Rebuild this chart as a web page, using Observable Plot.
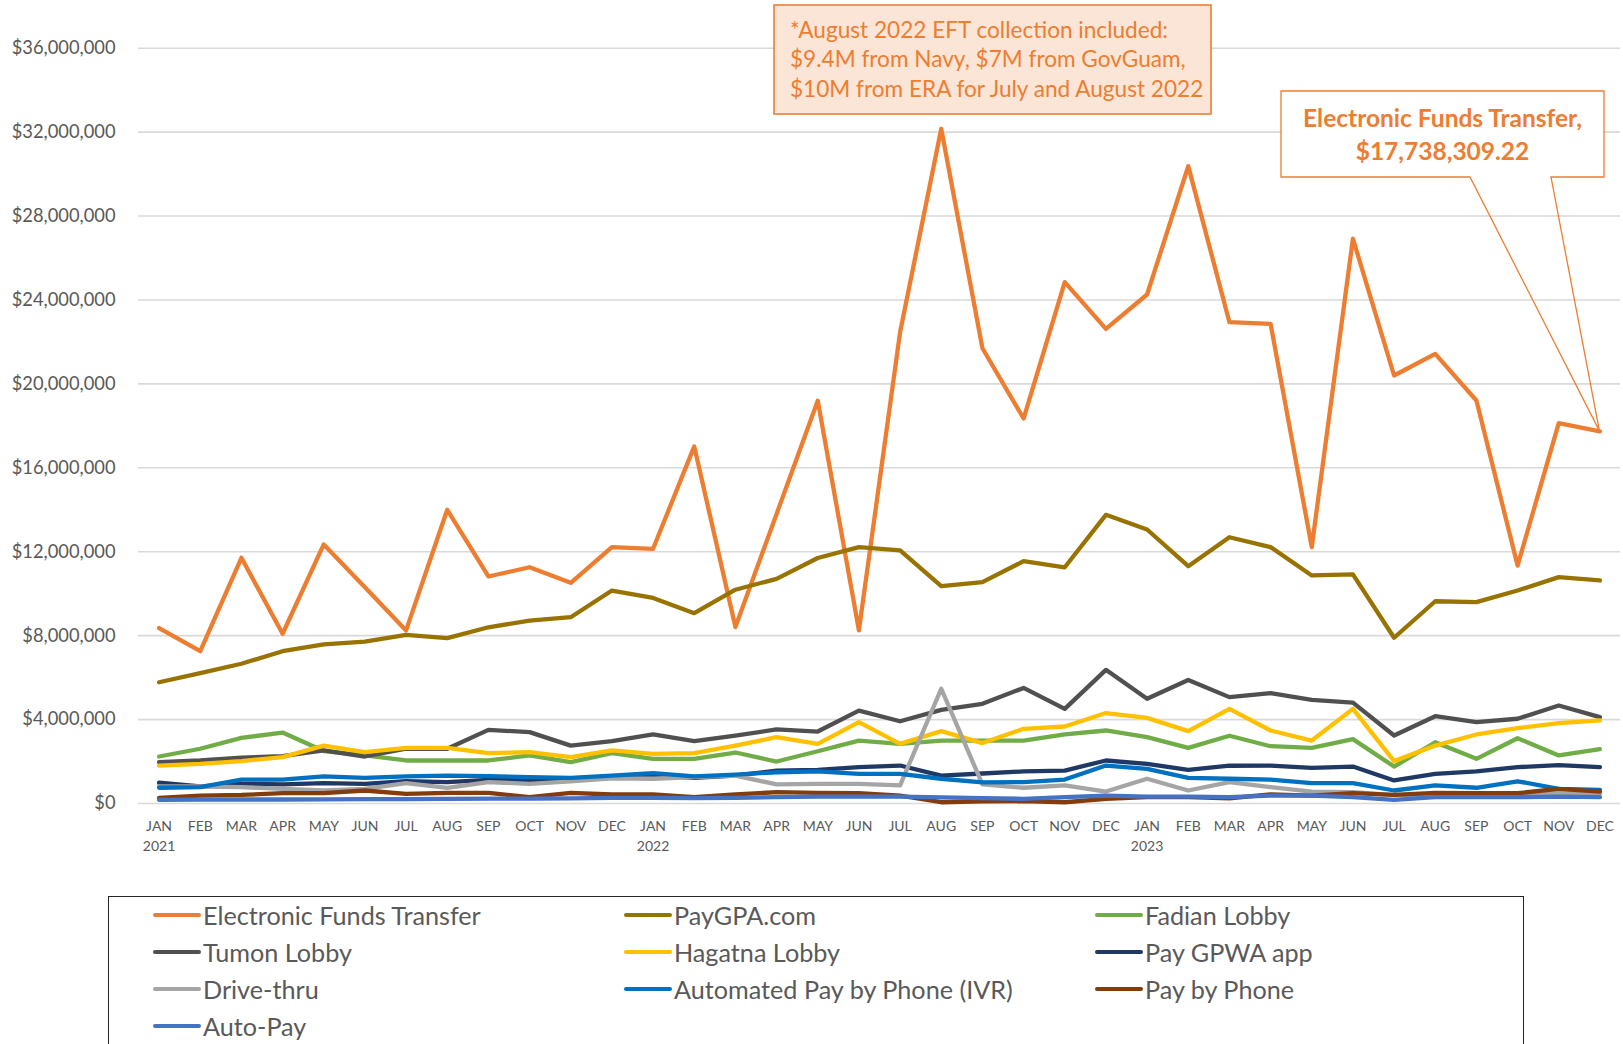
<!DOCTYPE html>
<html>
<head>
<meta charset="utf-8">
<script src="https://cdn.jsdelivr.net/npm/d3@7"></script>
<script src="https://cdn.jsdelivr.net/npm/@observablehq/plot@0.6"></script>
<style>
  html, body { margin: 0; padding: 0; background: #fff; overflow: hidden; }
  body { width: 1623px; height: 1044px; position: relative; font-family: Lato, "Open Sans", sans-serif; }
  #chart svg { display: block; overflow: visible; }
  #legend {
    position: absolute; left: 108px; top: 896px; width: 1416px; height: 170px;
    border: 1.5px solid #262626; box-sizing: border-box;
  }
  .item { position: absolute; display: flex; align-items: center; font-size: 25.2px; color: #595959; white-space: nowrap; }
  .sw { width: 48px; height: 4px; margin-right: 2px; border-radius: 2px; }
</style>
</head>
<body>
<div id="chart"></div>
<div id="legend"></div>
<script>
// ---- Data (values in millions of dollars) ----
const monthNames = ["JAN","FEB","MAR","APR","MAY","JUN","JUL","AUG","SEP","OCT","NOV","DEC"];
const years = [2021, 2022, 2023];
const yTicks = [0, 4e6, 8e6, 12e6, 16e6, 20e6, 24e6, 28e6, 32e6, 36e6];

const seriesNames = [
  "Electronic Funds Transfer", "PayGPA.com", "Fadian Lobby",
  "Tumon Lobby", "Hagatna Lobby", "Pay GPWA app",
  "Drive-thru", "Automated Pay by Phone (IVR)", "Pay by Phone",
  "Auto-Pay"
];
const seriesColors = [
  "#ED7D31", "#997300", "#70AD47",
  "#505050", "#FFC000", "#1F3864",
  "#A5A5A5", "#0070C0", "#843C0C",
  "#4472C4"
];

const eft = [8.36, 7.26, 11.71, 8.09, 12.35, 10.31, 8.25, 14.0, 10.82, 11.26, 10.52, 12.22,
             12.14, 17.02, 8.41, 13.8, 19.2, 8.25, 22.46, 32.16, 21.70, 18.35, 24.85, 22.62,
             24.26, 30.38, 22.94, 22.86, 12.22, 26.92, 20.40, 21.43, 19.21, 11.34, 18.13, 17.73830922];
const payGPA = [5.78, 6.21, 6.66, 7.26, 7.58, 7.72, 8.04, 7.88, 8.40, 8.72, 8.88, 10.15,
                9.80, 9.07, 10.19, 10.71, 11.7, 12.22, 12.06, 10.36, 10.55, 11.55, 11.26, 13.76,
                13.06, 11.31, 12.69, 12.22, 10.87, 10.92, 7.90, 9.64, 9.60, 10.15, 10.79, 10.63];
const fadian = [2.24, 2.61, 3.13, 3.38, 2.5, 2.29, 2.05, 2.05, 2.05, 2.29, 1.97, 2.40,
                2.13, 2.13, 2.43, 2.0, 2.49, 3.0, 2.84, 3.0, 3.0, 3.0, 3.29, 3.48,
                3.16, 2.65, 3.23, 2.73, 2.65, 3.07, 1.76, 2.92, 2.13, 3.11, 2.29, 2.59];
const tumon = [1.97, 2.05, 2.18, 2.26, 2.53, 2.24, 2.61, 2.61, 3.51, 3.40, 2.76, 2.97,
               3.29, 2.97, 3.24, 3.53, 3.43, 4.43, 3.92, 4.46, 4.75, 5.51, 4.51, 6.37,
               4.99, 5.89, 5.07, 5.26, 4.94, 4.81, 3.24, 4.16, 3.88, 4.04, 4.67, 4.12];
const hagatna = [1.81, 1.89, 2.02, 2.21, 2.76, 2.45, 2.65, 2.65, 2.40, 2.45, 2.21, 2.53,
                 2.37, 2.40, 2.76, 3.16, 2.84, 3.88, 2.84, 3.45, 2.88, 3.56, 3.67, 4.31,
                 4.08, 3.45, 4.51, 3.48, 3.0, 4.51, 2.02, 2.76, 3.29, 3.59, 3.83, 3.96];
const gpwaApp = [0.99, 0.81, 0.94, 0.91, 0.97, 0.94, 1.06, 1.02, 1.13, 1.10, 1.18, 1.29,
                 1.33, 1.22, 1.33, 1.57, 1.60, 1.73, 1.81, 1.33, 1.43, 1.53, 1.57, 2.05,
                 1.89, 1.60, 1.80, 1.81, 1.70, 1.76, 1.10, 1.41, 1.53, 1.73, 1.83, 1.73];
const driveThru = [0.81, 0.81, 0.78, 0.70, 0.62, 0.70, 0.97, 0.75, 1.02, 0.94, 1.05, 1.20,
                   1.18, 1.26, 1.33, 0.91, 0.94, 0.94, 0.86, 5.47, 0.91, 0.75, 0.86, 0.57,
                   1.18, 0.62, 1.02, 0.78, 0.57, 0.54, 0.40, 0.42, 0.42, 0.45, 0.48, 0.45];
const ivr = [0.75, 0.78, 1.14, 1.14, 1.29, 1.22, 1.29, 1.33, 1.30, 1.26, 1.22, 1.33,
             1.45, 1.29, 1.38, 1.49, 1.53, 1.41, 1.41, 1.18, 1.01, 1.02, 1.14, 1.81,
             1.65, 1.22, 1.18, 1.14, 0.97, 0.97, 0.62, 0.86, 0.75, 1.06, 0.70, 0.65];
const payByPhone = [0.27, 0.38, 0.41, 0.49, 0.49, 0.62, 0.46, 0.51, 0.51, 0.30, 0.51, 0.43,
                    0.43, 0.30, 0.43, 0.54, 0.51, 0.49, 0.38, 0.06, 0.10, 0.11, 0.06, 0.22,
                    0.30, 0.30, 0.25, 0.43, 0.38, 0.49, 0.41, 0.51, 0.49, 0.49, 0.70, 0.57];
const autoPay = [0.17, 0.18, 0.19, 0.19, 0.20, 0.21, 0.21, 0.22, 0.23, 0.23, 0.24, 0.27,
                 0.27, 0.26, 0.27, 0.30, 0.33, 0.33, 0.33, 0.29, 0.26, 0.22, 0.30, 0.38,
                 0.33, 0.33, 0.30, 0.38, 0.38, 0.30, 0.17, 0.30, 0.30, 0.30, 0.33, 0.30];

const noteLines = [
  "*August 2022 EFT collection included:",
  "$9.4M from Navy, $7M from GovGuam,",
  "$10M from ERA for July and August 2022"
];

// ---- Build table ----
const periods = years.flatMap(y => monthNames.map(m => `${m} ${y}`));
const seriesValues = [eft, payGPA, fadian, tumon, hagatna, gpwaApp, driveThru, ivr, payByPhone, autoPay];
const data = seriesNames.flatMap((name, s) =>
  seriesValues[s].map((v, i) => ({series: name, period: periods[i], value: v * 1e6})));
const yearMarks = years.map(y => ({period: `JAN ${y}`, year: String(y)}));

const fmt = d3.format("$,.0f");
const lastEFT = eft[eft.length - 1] * 1e6;

const W = 1623, H = 870;
const plot = Plot.plot({
  width: W, height: H,
  marginTop: 47.7, marginBottom: 67, marginLeft: 138, marginRight: 3,
  style: {fontFamily: "Lato, 'Open Sans', sans-serif", color: "#595959", background: "transparent", overflow: "visible"},
  x: {type: "point", domain: periods, padding: 0.5, round: false, axis: null},
  y: {domain: [0, 36e6], axis: null},
  color: {domain: seriesNames, range: seriesColors, legend: false},
  marks: [
    Plot.gridY(yTicks, {stroke: "#D9D9D9", strokeOpacity: 1, strokeWidth: 1.6}),
    Plot.axisY({ticks: yTicks, tickFormat: fmt, tickSize: 0, tickPadding: 23, fontSize: 18.3, label: null, fill: "#595959"}),
    Plot.axisX({tickSize: 0, tickPadding: 18, fontSize: 14, label: null, fill: "#595959", tickFormat: d => d.slice(0, 3)}),
    Plot.text(yearMarks, {x: "period", frameAnchor: "bottom", dy: 38, lineAnchor: "top", text: "year", fontSize: 14, fill: "#595959"}),
    Plot.lineY(data, {x: "period", y: "value", z: "series", stroke: "series", strokeWidth: 4.3, strokeLinejoin: "round", strokeLinecap: "round"})
  ]
});
document.getElementById("chart").appendChild(plot);

// ---- Annotations ----
const svg = d3.select(plot);
const xs = plot.scale("x"), ys = plot.scale("y");
const orange = "#ED7D31";

// note box
const g1 = svg.append("g").attr("text-anchor", "start");
g1.append("rect").attr("x", 774).attr("y", 5).attr("width", 437).attr("height", 109)
  .attr("fill", "#FBE5D6").attr("stroke", orange).attr("stroke-width", 1.6);
noteLines.forEach((t, i) => {
  g1.append("text").attr("x", 790).attr("y", 30 + i * 29.5).attr("dy", "0.35em")
    .attr("text-anchor", "start")
    .attr("fill", orange).attr("font-size", 22.6).attr("font-family", "Lato, sans-serif").text(t);
});

// data label callout
const tipX = xs.apply(periods[periods.length - 1]);
const tipY = ys.apply(lastEFT);
const bx0 = 1281, bx1 = 1604, by0 = 91, by1 = 177, w0 = 1470, w1 = 1551;
const g2 = svg.append("g");
g2.append("rect").attr("x", bx0).attr("y", by0).attr("width", bx1 - bx0).attr("height", by1 - by0).attr("fill", "#fff");
g2.append("path")
  .attr("d", `M${w0},${by1}H${bx0}V${by0}H${bx1}V${by1}H${w1}L${tipX},${tipY}Z`)
  .attr("fill", "none").attr("stroke", orange).attr("stroke-width", 1.3).attr("stroke-linejoin", "miter");
const labelLines = [`${seriesNames[0]},`, d3.format("$,.2f")(lastEFT)];
labelLines.forEach((t, i) => {
  g2.append("text").attr("x", (bx0 + bx1) / 2).attr("y", 118 + i * 33).attr("dy", "0.35em")
    .attr("text-anchor", "middle").attr("fill", orange).attr("font-weight", "bold")
    .attr("font-size", 24.5).attr("font-family", "Lato, sans-serif").text(t);
});

// ---- Legend ----
const legend = document.getElementById("legend");
const colX = [44, 515, 986];
const rowY = [17.5, 54.5, 91.5, 128.5];
seriesNames.forEach((name, i) => {
  const item = document.createElement("div");
  item.className = "item";
  item.style.left = colX[i % 3] + "px";
  item.style.top = (rowY[Math.floor(i / 3)] - 15) + "px";
  item.style.height = "30px";
  const sw = document.createElement("span");
  sw.className = "sw";
  sw.style.background = seriesColors[i];
  const lab = document.createElement("span");
  lab.textContent = name;
  item.appendChild(sw); item.appendChild(lab);
  legend.appendChild(item);
});
</script>
</body>
</html>
